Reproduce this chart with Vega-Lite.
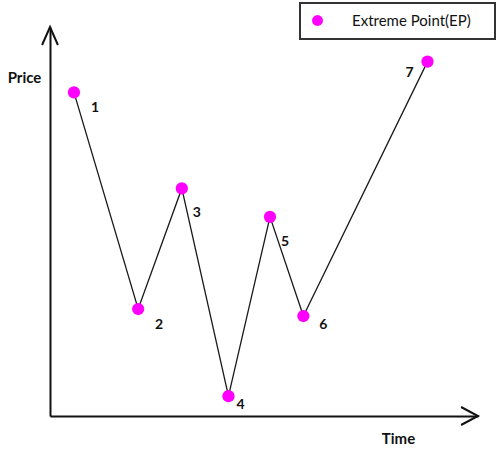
{
  "$schema": "https://vega.github.io/schema/vega-lite/v6.json",
  "width": 428,
  "height": 389,
  "autosize": {"type": "none"},
  "padding": {"left": 50, "top": 27, "right": 23, "bottom": 34},
  "config": {"view": {"stroke": null}, "font": "Lato"},
  "datasets": {
    "extremes": [
      {"ep": "1", "t": 5.6, "p": 83.2, "kind": "Extreme Point(EP)"},
      {"ep": "2", "t": 20.6, "p": 27.5, "kind": "Extreme Point(EP)"},
      {"ep": "3", "t": 30.8, "p": 58.5, "kind": "Extreme Point(EP)"},
      {"ep": "4", "t": 41.7, "p": 5.1, "kind": "Extreme Point(EP)"},
      {"ep": "5", "t": 51.4, "p": 51.2, "kind": "Extreme Point(EP)"},
      {"ep": "6", "t": 59.2, "p": 25.7, "kind": "Extreme Point(EP)"},
      {"ep": "7", "t": 88.2, "p": 91.1, "kind": "Extreme Point(EP)"}
    ],
    "axisEnds": [
      {"axis": "Price", "t": 0, "p": 100},
      {"axis": "Time", "t": 100, "p": 0}
    ]
  },
  "layer": [
    {
      "data": {"name": "extremes"},
      "mark": {"type": "line", "color": "#1a1a1a", "strokeWidth": 1.3},
      "encoding": {
        "x": {
          "field": "t", "type": "quantitative",
          "scale": {"domain": [0, 100], "nice": false, "zero": false},
          "axis": {
            "domain": true, "domainColor": "#111", "domainWidth": 2,
            "ticks": false, "labels": false, "grid": false,
            "title": "Time", "titleFont": "Lato", "titleFontWeight": "bold",
            "titleFontSize": 15, "titleColor": "#111",
            "titleX": 348, "titleY": 22, "titleAlign": "center", "titleBaseline": "middle"
          }
        },
        "y": {
          "field": "p", "type": "quantitative",
          "scale": {"domain": [0, 100], "nice": false, "zero": false},
          "axis": {
            "domain": true, "domainColor": "#111", "domainWidth": 2,
            "ticks": false, "labels": false, "grid": false,
            "title": "Price", "titleFont": "Lato", "titleFontWeight": "bold",
            "titleFontSize": 15, "titleColor": "#111", "titleAngle": 0,
            "titleX": -26, "titleY": 50, "titleAlign": "center", "titleBaseline": "middle"
          }
        },
        "order": {"field": "t", "type": "quantitative"}
      }
    },
    {
      "data": {"name": "axisEnds"},
      "mark": {"type": "point", "filled": false, "stroke": "#111", "strokeWidth": 2, "opacity": 1, "size": 1296},
      "encoding": {
        "x": {"field": "t", "type": "quantitative"},
        "y": {"field": "p", "type": "quantitative"},
        "shape": {
          "field": "axis", "type": "nominal", "legend": null,
          "scale": {"domain": ["Price", "Time"], "range": ["M-0.44,1L0,0L0.44,1", "M-0.94,-0.5L0,0L-0.94,0.5"]}
        }
      }
    },
    {
      "data": {"name": "extremes"},
      "mark": {"type": "point", "filled": true, "opacity": 1, "size": 150, "shape": "circle"},
      "encoding": {
        "x": {"field": "t", "type": "quantitative"},
        "y": {"field": "p", "type": "quantitative"},
        "color": {
          "field": "kind", "type": "nominal",
          "scale": {"range": ["#FF00FF"]},
          "legend": {
            "orient": "none", "legendX": 250, "legendY": -24,
            "title": " ", "titleOrient": "right", "titlePadding": 14, "titleFontSize": 15,
            "strokeColor": "#333", "fillColor": "white",
            "padding": 10, "symbolSize": 120, "symbolType": "circle",
            "symbolStrokeWidth": 0, "symbolOpacity": 1,
            "labelFont": "Lato", "labelFontSize": 15, "labelColor": "#111",
            "labelOffset": 27,
            "encode": {"legend": {"update": {"strokeWidth": {"value": 2}}}}
          }
        }
      }
    },
    {
      "data": {"name": "extremes"},
      "transform": [{"filter": "datum.ep == '1' || datum.ep == '2'"}],
      "mark": {"type": "text", "font": "Lato", "fontWeight": "bold", "fontSize": 14, "color": "#111", "dx": 21, "dy": 16},
      "encoding": {
        "x": {"field": "t", "type": "quantitative"},
        "y": {"field": "p", "type": "quantitative"},
        "text": {"field": "ep"}
      }
    },
    {
      "data": {"name": "extremes"},
      "transform": [{"filter": "datum.ep == '3' || datum.ep == '5'"}],
      "mark": {"type": "text", "font": "Lato", "fontWeight": "bold", "fontSize": 14, "color": "#111", "dx": 15, "dy": 25},
      "encoding": {
        "x": {"field": "t", "type": "quantitative"},
        "y": {"field": "p", "type": "quantitative"},
        "text": {"field": "ep"}
      }
    },
    {
      "data": {"name": "extremes"},
      "transform": [{"filter": "datum.ep == '4'"}],
      "mark": {"type": "text", "font": "Lato", "fontWeight": "bold", "fontSize": 14, "color": "#111", "dx": 12, "dy": 9},
      "encoding": {
        "x": {"field": "t", "type": "quantitative"},
        "y": {"field": "p", "type": "quantitative"},
        "text": {"field": "ep"}
      }
    },
    {
      "data": {"name": "extremes"},
      "transform": [{"filter": "datum.ep == '6'"}],
      "mark": {"type": "text", "font": "Lato", "fontWeight": "bold", "fontSize": 14, "color": "#111", "dx": 20, "dy": 9},
      "encoding": {
        "x": {"field": "t", "type": "quantitative"},
        "y": {"field": "p", "type": "quantitative"},
        "text": {"field": "ep"}
      }
    },
    {
      "data": {"name": "extremes"},
      "transform": [{"filter": "datum.ep == '7'"}],
      "mark": {"type": "text", "font": "Lato", "fontWeight": "bold", "fontSize": 14, "color": "#111", "dx": -18, "dy": 11},
      "encoding": {
        "x": {"field": "t", "type": "quantitative"},
        "y": {"field": "p", "type": "quantitative"},
        "text": {"field": "ep"}
      }
    }
  ]
}
